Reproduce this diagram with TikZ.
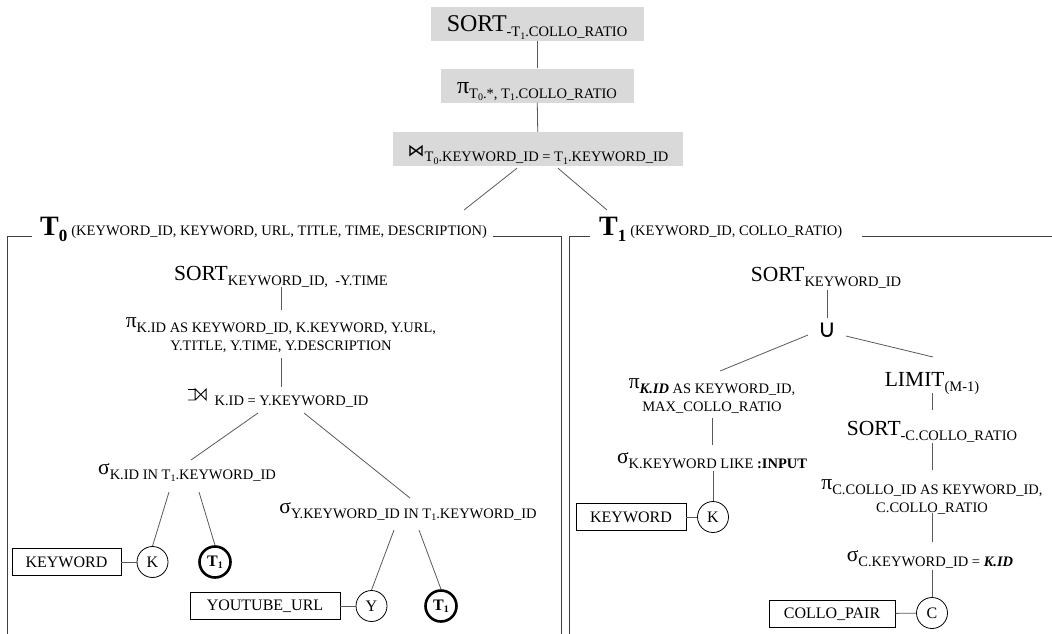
\documentclass[tikz,border=0pt]{standalone}
\usepackage{fontspec}
\setmainfont{Liberation Serif}
\newfontfamily\symfont{DejaVu Sans}
\usetikzlibrary{shapes.geometric}

\newcommand{\opname}[1]{{\fontsize{21.5}{21.5}\selectfont #1}}
\newcommand{\opsub}[1]{\raisebox{-5pt}{\fontsize{14.5}{16}\selectfont #1}}
\newcommand{\idx}[1]{\raisebox{-2.5pt}{\fontsize{10}{10}\selectfont #1}}
\newcommand{\twolines}[2]{\fontsize{14.5}{16}\selectfont\begin{tabular}[t]{@{}c@{}}#1\\#2\end{tabular}}
% left outer join sign, drawn (no installed font has it)
\newcommand{\lojoin}{\tikz[baseline=0pt,x=1pt,y=1pt,line width=0.9pt]{\draw (0,0) -- (7,0) -- (7,11) -- (18,0) -- (18,11) -- (7,0); \draw (0,11) -- (7,11);}}

\begin{document}
\begin{tikzpicture}[x=1pt,y=-1pt]
      \tikzstyle{edge} = [draw=black!65, line width=0.8pt]
      \tikzstyle{frame} = [draw=black!75, line width=1pt]
      \tikzstyle{graybox} = [rectangle, fill=black!15, minimum height=34pt, text height=16pt, text depth=1pt, inner sep=0pt, text centered]
      \tikzstyle{op} = [inner sep=0pt, anchor=base]
      \tikzstyle{relation} = [rectangle, draw=black, line width=0.8pt, minimum height=27pt, inner sep=0pt, font=\fontsize{16}{16}\selectfont]
      \tikzstyle{alias} = [circle, draw=black, line width=0.8pt, minimum size=31pt, inner sep=0pt, font=\fontsize{16}{16}\selectfont]
      \tikzstyle{subquery} = [alias, line width=2.6pt, font=\bfseries\fontsize{16}{16}\selectfont]
      \useasboundingbox (0,0) rectangle (1052,633);
      % top of the plan
      \node (sortTop) [graybox, minimum width=213pt] at (537,24) {{\fontsize{24}{24}\selectfont SORT}\opsub{-T\idx{1}.COLLO\_RATIO}};
      \node (projTop) [graybox, minimum width=193pt] at (537,85.5) {{\fontsize{24}{24}\selectfont π}\opsub{T\idx{0}.*, T\idx{1}.COLLO\_RATIO}};
      \node (joinTop) [graybox, minimum width=290pt] at (538,149) {{\symfont\fontsize{17}{17}\selectfont ⋈}\opsub{T\idx{0}.KEYWORD\_ID = T\idx{1}.KEYWORD\_ID}};
      \coordinate (t0link) at (464,210);
      \coordinate (t1link) at (607,210);
      \draw [edge] (sortTop) -- (projTop);
      \draw [edge] (projTop) -- (joinTop);
      \draw [edge] ([xshift=-21pt,yshift=-2pt]joinTop.south) -- (t0link);
      \draw [edge] ([xshift=20pt,yshift=-2pt]joinTop.south) -- (t1link);
      % frames of the two subqueries
      \node (t0head) [anchor=base west, inner sep=0pt] at (40,235) {{\bfseries\fontsize{28}{28}\selectfont T}\raisebox{-6pt}{\bfseries\fontsize{17}{17}\selectfont 0}\hspace{4pt}{\fontsize{14.5}{16}\selectfont (KEYWORD\_ID, KEYWORD, URL, TITLE, TIME, DESCRIPTION)}};
      \node (t1head) [anchor=base west, inner sep=0pt] at (599,235) {{\bfseries\fontsize{28}{28}\selectfont T}\raisebox{-6pt}{\bfseries\fontsize{17}{17}\selectfont 1}\hspace{4pt}{\fontsize{14.5}{16}\selectfont (KEYWORD\_ID, COLLO\_RATIO)}};
      \draw [frame] (32,236) -- (7,236) -- (7,640);
      \draw [frame] (493,236) -- (561,236) -- (561,640);
      \draw [frame] (590,236) -- (569,236) -- (569,640);
      \draw [frame] (862,236) -- (1060,236);
      % T0
      \node (sortL) [op] at (281,280) {\opname{SORT}\opsub{KEYWORD\_ID, \ -Y.TIME}};
      \node (piL) [op] at (281,327) {\twolines{\opname{π}\opsub{K.ID AS KEYWORD\_ID, K.KEYWORD, Y.URL,}}{\opsub{Y.TITLE, Y.TIME, Y.DESCRIPTION}}};
      \node (joinL) [op] at (278,400) {\lojoin\opsub{\hspace{8pt}K.ID = Y.KEYWORD\_ID}};
      \node (selK) [op] at (187,474) {\opname{σ}\opsub{K.ID IN T\idx{1}.KEYWORD\_ID}};
      \node (selY) [op] at (408,513) {\opname{σ}\opsub{Y.KEYWORD\_ID IN T\idx{1}.KEYWORD\_ID}};
      \node (tabKw) [relation, minimum width=109pt] at (66.5,562) {KEYWORD};
      \node (cirK) [alias] at (152.5,562) {K};
      \node (cirT1a) [subquery] at (215,562) {T\idx{1}};
      \node (tabYt) [relation, minimum width=150pt] at (265,606) {YOUTUBE\_URL};
      \node (cirY) [alias] at (371.5,606) {Y};
      \node (cirT1b) [subquery] at (441,606) {T\idx{1}};
      \draw [edge] ([yshift=-7pt]sortL.base) -- ([yshift=17pt]piL.base);
      \draw [edge] ([yshift=-31pt]piL.base) -- ([xshift=3pt,yshift=13pt]joinL.base);
      \draw [edge] ([xshift=-20pt,yshift=-13pt]joinL.base) -- ([xshift=4pt,yshift=14pt]selK.base);
      \draw [edge] ([xshift=26pt,yshift=-13pt]joinL.base) -- ([xshift=2pt,yshift=15pt]selY.base);
      \draw [edge] ([xshift=-18pt,yshift=-18pt]selK.base) -- (cirK.north);
      \draw [edge] ([xshift=12pt,yshift=-18pt]selK.base) -- (cirT1a.north);
      \draw [edge] ([xshift=-14pt,yshift=-17pt]selY.base) -- (cirY.north);
      \draw [edge] ([xshift=11pt,yshift=-17pt]selY.base) -- (cirT1b.north);
      \draw [edge] (tabKw) -- (cirK);
      \draw [edge] (tabYt) -- (cirY);
      % T1
      \node (sortR) [op] at (826,281) {\opname{SORT}\opsub{KEYWORD\_ID}};
      \node (union) [op] at (827,337) {{\symfont\fontsize{25}{25}\selectfont ∪}};
      \node (piR) [op] at (712,388) {\twolines{\opname{π}\opsub{\textbf{\textit{K.ID}} AS KEYWORD\_ID,}}{\opsub{MAX\_COLLO\_RATIO}}};
      \node (limit) [op] at (932,386) {\opname{LIMIT}\opsub{(M-1)}};
      \node (selKR) [op] at (712,463) {\opname{σ}\opsub{K.KEYWORD LIKE \textbf{:INPUT}}};
      \node (sortC) [op] at (932,435) {\opname{SORT}\opsub{-C.COLLO\_RATIO}};
      \node (piC) [op] at (932,489) {\twolines{\opname{π}\opsub{C.COLLO\_ID AS KEYWORD\_ID,}}{\opsub{C.COLLO\_RATIO}}};
      \node (selC) [op] at (930,561) {\opname{σ}\opsub{C.KEYWORD\_ID = \textbf{\textit{K.ID}}}};
      \node (tabKw2) [relation, minimum width=110pt] at (631,517) {KEYWORD};
      \node (cirK2) [alias] at (713,517) {K};
      \node (tabCp) [relation, minimum width=126pt] at (832,614) {COLLO\_PAIR};
      \node (cirC) [alias] at (932,613) {C};
      \draw [edge] ([xshift=1pt,yshift=-9pt]sortR.base) -- ([yshift=19pt]union.base);
      \draw [edge] ([xshift=-19pt,yshift=2pt]union.base) -- ([xshift=8pt,yshift=17pt]piR.base);
      \draw [edge] ([xshift=19pt,yshift=1pt]union.base) -- ([xshift=1pt,yshift=29pt]limit.base);
      \draw [edge] ([yshift=-30pt]piR.base) -- ([yshift=18pt]selKR.base);
      \draw [edge] ([xshift=1pt,yshift=-8pt]selKR.base) -- (cirK2.north);
      \draw [edge] ([yshift=-7pt]limit.base) -- ([yshift=25pt]sortC.base);
      \draw [edge] ([yshift=-8pt]sortC.base) -- ([yshift=19pt]piC.base);
      \draw [edge] ([yshift=-24pt]piC.base) -- ([xshift=2pt,yshift=19pt]selC.base);
      \draw [edge] ([xshift=2pt,yshift=-9pt]selC.base) -- (cirC.north);
      \draw [edge] (tabKw2) -- (cirK2);
      \draw [edge] (tabCp) -- (cirC);
\end{tikzpicture}
\end{document}
